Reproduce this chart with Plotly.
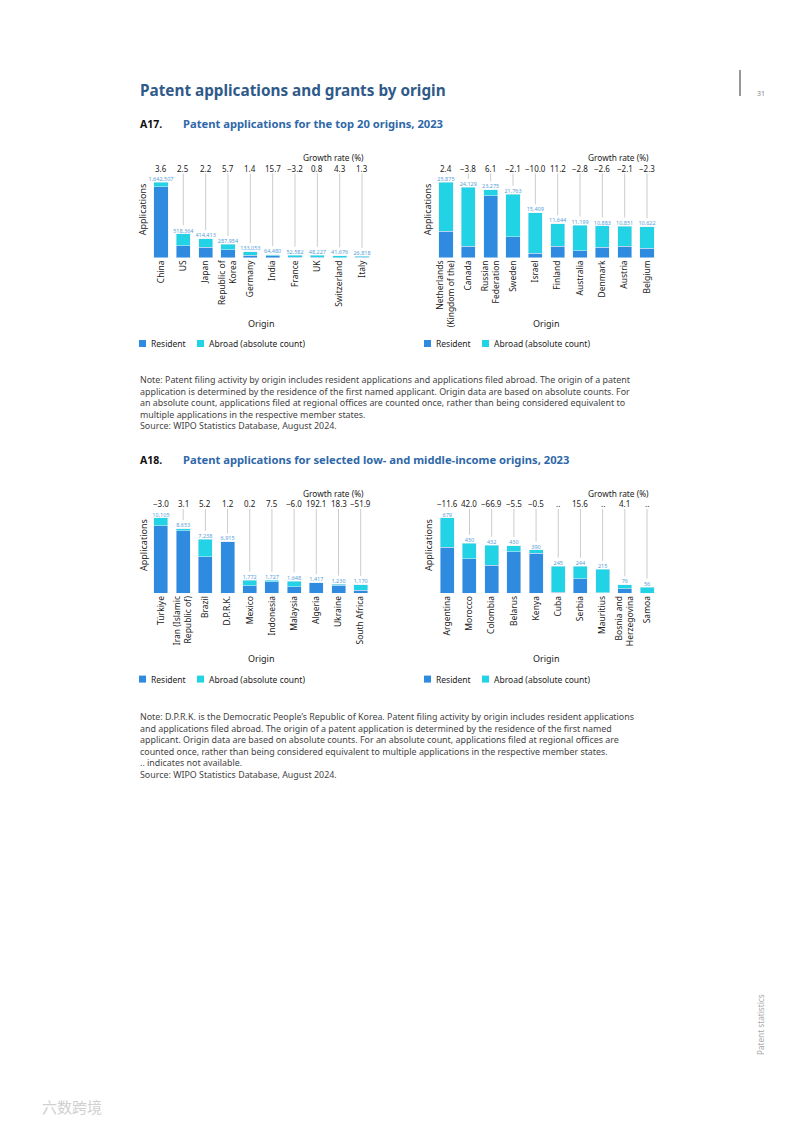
import plotly.graph_objects as go

W, H = 793, 1122
FONT = "Noto Sans"
RES_COLOR = "#2E8BDF"
ABR_COLOR = "#22D3E6"
LABEL_COLOR = "#5AA0D8"
LINE_COLOR = "#CCCCCC"

# ---------------- data ----------------
a17_left_origins = ["China", "US", "Japan", "Republic of<br>Korea", "Germany", "India",
                    "France", "UK", "Switzerland", "Italy"]
a17_left_total = [1642507, 518364, 414413, 287954, 133053, 64480, 52582, 48227, 41676, 26818]
a17_left_resident = [1545000, 264000, 228000, 176000, 53000, 45000, 14000, 12000, 2000, 9500]
a17_left_growth = ["3.6", "2.5", "2.2", "5.7", "1.4", "15.7", "\u22123.2", "0.8", "4.3", "1.3"]

a17_right_origins = ["Netherlands<br>(Kingdom of the)", "Canada", "Russian<br>Federation", "Sweden",
                     "Israel", "Finland", "Australia", "Denmark", "Austria", "Belgium"]
a17_right_total = [25875, 24129, 23275, 21763, 15409, 11644, 11199, 10883, 10851, 10622]
a17_right_resident = [9000, 4000, 21200, 7200, 1500, 3950, 2400, 3550, 4000, 3200]
a17_right_growth = ["2.4", "\u22123.8", "6.1", "\u22122.1", "\u221210.0", "11.2", "\u22122.8",
                    "\u22122.6", "\u22122.1", "\u22122.3"]

a18_left_origins = ["Türkiye", "Iran (Islamic<br>Republic of)", "Brazil", "D.P.R.K.", "Mexico",
                    "Indonesia", "Malaysia", "Algeria", "Ukraine", "South Africa"]
a18_left_total = [10105, 8653, 7238, 6915, 1772, 1727, 1648, 1417, 1230, 1170]
a18_left_resident = [9050, 8400, 4900, 6900, 980, 1550, 890, 1390, 1100, 420]
a18_left_growth = ["\u22123.0", "3.1", "5.2", "1.2", "0.2", "7.5", "\u22126.0", "192.1", "18.3", "\u221251.9"]

a18_right_origins = ["Argentina", "Morocco", "Colombia", "Belarus", "Kenya", "Cuba", "Serbia",
                     "Mauritius", "Bosnia and<br>Herzegovina", "Samoa"]
a18_right_total = [679, 450, 432, 430, 390, 245, 244, 215, 76, 56]
a18_right_resident = [413, 310, 254, 374, 359, 8, 129, 6, 40, 0]
a18_right_growth = ["\u221211.6", "42.0", "\u221266.9", "\u22125.5", "\u22120.5", "..", "15.6", "..", "4.1", ".."]

legend_labels = ["Resident", "Abroad (absolute count)"]

note_a17_lines = [
    "Note: Patent filing activity by origin includes resident applications and applications filed abroad. The origin of a patent",
    "application is determined by the residence of the first named applicant. Origin data are based on absolute counts. For",
    "an absolute count, applications filed at regional offices are counted once, rather than being considered equivalent to",
    "multiple applications in the respective member states.",
    "Source: WIPO Statistics Database, August 2024.",
]
note_a18_lines = [
    "Note: D.P.R.K. is the Democratic People\u2019s Republic of Korea. Patent filing activity by origin includes resident applications",
    "and applications filed abroad. The origin of a patent application is determined by the residence of the first named",
    "applicant. Origin data are based on absolute counts. For an absolute count, applications filed at regional offices are",
    "counted once, rather than being considered equivalent to multiple applications in the respective member states.",
    ".. indicates not available.",
    "Source: WIPO Statistics Database, August 2024.",
]


def px(x):
    return x / W


def py(y):
    return 1 - y / H


charts = [
    dict(o=a17_left_origins, t=a17_left_total, r=a17_left_resident, g=a17_left_growth,
         x0=149.8, x1=373.2, top=173.3, base=257.7),
    dict(o=a17_right_origins, t=a17_right_total, r=a17_right_resident, g=a17_right_growth,
         x0=434.8, x1=658.2, top=173.3, base=257.7),
    dict(o=a18_left_origins, t=a18_left_total, r=a18_left_resident, g=a18_left_growth,
         x0=149.8, x1=373.2, top=509.0, base=593.3),
    dict(o=a18_right_origins, t=a18_right_total, r=a18_right_resident, g=a18_right_growth,
         x0=434.8, x1=658.2, top=509.0, base=593.3),
]

fig = go.Figure()
annotations = []
shapes = []
layout_axes = {}

for i, c in enumerate(charts):
    k = "" if i == 0 else str(i + 1)
    xa, ya = "x" + k, "y" + k
    abroad = [t - r for t, r in zip(c["t"], c["r"])]
    ymax = max(c["t"]) * 1.118
    hpx = c["base"] - c["top"]
    off = ymax * 8.5 / hpx

    fig.add_trace(go.Bar(x=c["o"], y=c["r"], marker_color=RES_COLOR, name=legend_labels[0],
                         xaxis=xa, yaxis=ya, showlegend=False, hoverinfo="skip"))
    fig.add_trace(go.Bar(x=c["o"], y=abroad, marker_color=ABR_COLOR, name=legend_labels[1],
                         xaxis=xa, yaxis=ya, showlegend=False, hoverinfo="skip"))
    # connector lines from value label to growth rate
    lx, ly = [], []
    for o, t in zip(c["o"], c["t"]):
        lx += [o, o, None]
        ly += [min(t + off, ymax), ymax, None]
    fig.add_trace(go.Scatter(x=lx, y=ly, mode="lines", line=dict(color=LINE_COLOR, width=1),
                             xaxis=xa, yaxis=ya, showlegend=False, hoverinfo="skip", cliponaxis=False))
    # value labels
    fig.add_trace(go.Scatter(x=c["o"], y=c["t"], mode="text", text=[f"{t:,}" for t in c["t"]],
                             textposition="top center",
                             textfont=dict(family=FONT, size=5.5, color=LABEL_COLOR),
                             xaxis=xa, yaxis=ya, showlegend=False, hoverinfo="skip", cliponaxis=False))

    layout_axes["xaxis" + k] = dict(domain=[px(c["x0"]), px(c["x1"])], anchor=ya, type="category",
                                    tickangle=-90, showgrid=False, zeroline=False, showline=False,
                                    ticks="", tickfont=dict(family=FONT, size=8.5, color="#222"),
                                    fixedrange=True)
    layout_axes["yaxis" + k] = dict(domain=[py(c["base"]), py(c["top"])], anchor=xa,
                                    range=[0, ymax], showgrid=False, zeroline=False, showline=False,
                                    showticklabels=False, ticks="", fixedrange=True)

    # growth numbers
    for o, g in zip(c["o"], c["g"]):
        annotations.append(dict(x=o, y=1, xref=xa, yref=ya + " domain", text=g, showarrow=False,
                                yanchor="middle", yshift=5,
                                font=dict(family=FONT, size=8, color="#222")))
    annotations.append(dict(x=px(c["x1"] - 7.5), y=py(c["top"] - 16), xref="paper", yref="paper",
                            text="Growth rate (%)", showarrow=False, xanchor="right", yanchor="middle",
                            font=dict(family=FONT, size=8.3, color="#222")))
    annotations.append(dict(x=px(c["x0"] - 7), y=py((c["top"] + c["base"]) / 2 - 6), xref="paper",
                            yref="paper", text="Applications", textangle=-90, showarrow=False,
                            xanchor="center", yanchor="middle",
                            font=dict(family=FONT, size=9, color="#222")))
    annotations.append(dict(x=px((c["x0"] + c["x1"]) / 2), y=py(c["base"] + 65.5), xref="paper",
                            yref="paper", text="Origin", showarrow=False, xanchor="center",
                            yanchor="middle", font=dict(family=FONT, size=9, color="#222")))
    # legend
    ly0 = c["base"] + 85.8
    lx0 = c["x0"] - 10.8
    for j, (lab, col, dx) in enumerate(zip(legend_labels, [RES_COLOR, ABR_COLOR], [0, 58])):
        shapes.append(dict(type="rect", xref="paper", yref="paper",
                           x0=px(lx0 + dx), x1=px(lx0 + dx + 7), y0=py(ly0 + 3.5), y1=py(ly0 - 3.5),
                           fillcolor=col, line=dict(width=0)))
        annotations.append(dict(x=px(lx0 + dx + 10), y=py(ly0), xref="paper", yref="paper", text=lab,
                                showarrow=False, xanchor="left", yanchor="middle",
                                font=dict(family=FONT, size=8.5, color="#222")))

page = [
    dict(x=px(138), y=py(90), text="<b>Patent applications and grants by origin</b>",
         font=dict(family=FONT, size=15.3, color="#2F5A8A")),
    dict(x=px(138), y=py(124), text="<b>A17.</b>", font=dict(family=FONT, size=10.5, color="#111")),
    dict(x=px(181), y=py(124), text="<b>Patent applications for the top 20 origins, 2023</b>",
         font=dict(family=FONT, size=11.2, color="#2F68A8")),
    dict(x=px(138), y=py(460), text="<b>A18.</b>", font=dict(family=FONT, size=10.5, color="#111")),
    dict(x=px(181), y=py(460), text="<b>Patent applications for selected low- and middle-income origins, 2023</b>",
         font=dict(family=FONT, size=11.2, color="#2F68A8")),
    dict(x=px(755), y=py(93), text="31", font=dict(family=FONT, size=7, color="#888")),
    dict(x=px(760), y=py(1025), text="Patent statistics", textangle=-90, xanchor="center",
         font=dict(family=FONT, size=8.2, color="#AAA")),
    dict(x=px(40), y=py(1106), text="六数跨境",
         font=dict(family="Noto Sans CJK SC", size=15, color="#D0D0D0")),
    dict(x=px(138), y=py(371.5), text="<br>".join(note_a17_lines), align="left", yanchor="top",
         font=dict(family=FONT, size=8.9, color="#444")),
    dict(x=px(138), y=py(707.5), text="<br>".join(note_a18_lines), align="left", yanchor="top",
         font=dict(family=FONT, size=8.9, color="#444")),
]
for a in page:
    a.setdefault("xref", "paper")
    a.setdefault("yref", "paper")
    a.setdefault("xanchor", "left")
    a.setdefault("yanchor", "middle")
    a.setdefault("showarrow", False)
annotations += page

shapes.append(dict(type="line", xref="paper", yref="paper", x0=px(740), x1=px(740),
                   y0=py(70), y1=py(96), line=dict(color="#333", width=1)))

fig.update_layout(width=W, height=H, margin=dict(l=0, r=0, t=0, b=0),
                  paper_bgcolor="white", plot_bgcolor="white",
                  barmode="stack", bargap=0.37, showlegend=False,
                  font=dict(family=FONT), annotations=annotations, shapes=shapes,
                  **layout_axes)

fig.write_html("out.html", config={"displayModeBar": False},
               post_script="document.body.style.margin='0';")
